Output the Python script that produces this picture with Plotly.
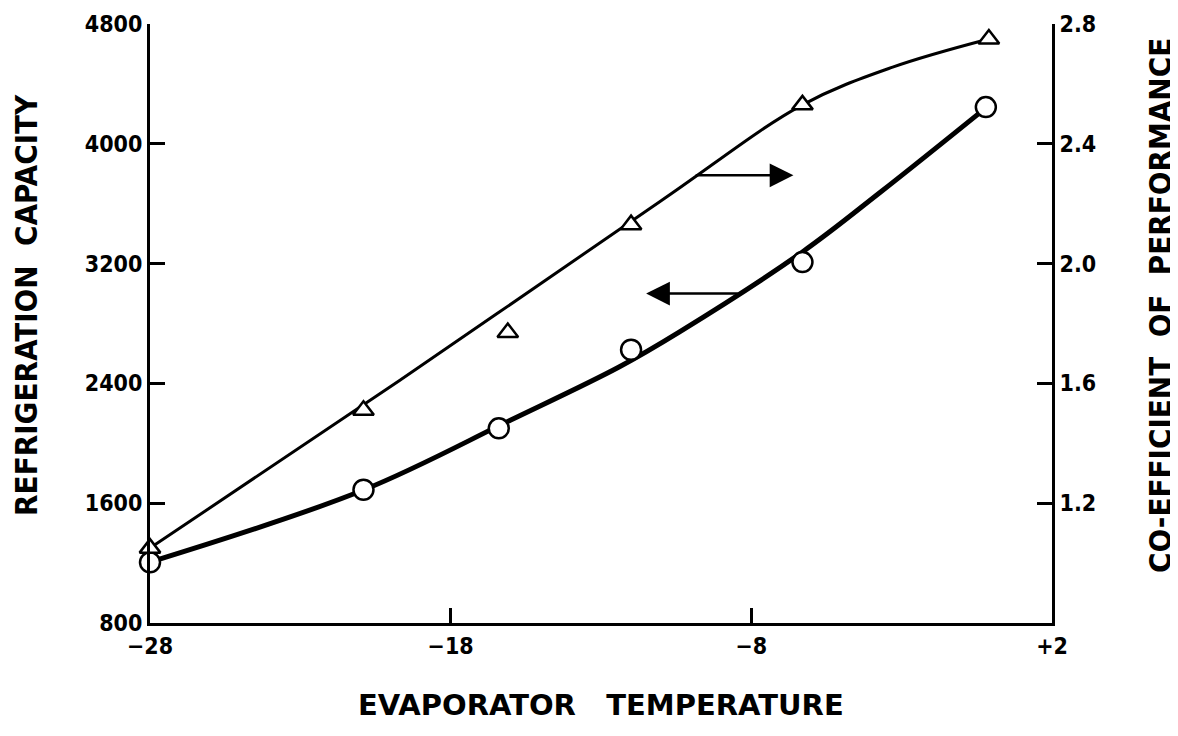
import plotly.graph_objects as go

# ---- data ----
# measured points
temp_cap = [-28, -20.9, -16.4, -12.0, -6.3, -0.2]          # evaporator temperature (circles)
capacity = [1205, 1690, 2100, 2625, 3210, 4245]             # refrigeration capacity (left axis)
temp_cop = [-28, -20.9, -16.1, -12.0, -6.3, -0.1]           # evaporator temperature (triangles)
cop = [1.05, 1.51, 1.77, 2.13, 2.53, 2.75]                  # co-efficient of performance (right axis)

# hand-fitted curves as drawn in the picture
curve_cap_t = [-28, -20.9, -16.0, -12.4, -10.4, -6.3, -3.7, -0.2]
curve_cap_v = [1207, 1688, 2156, 2510, 2743, 3278, 3678, 4240]
curve_cop_t = [-28, -19.7, -11.0, -6.3, -3.3, -0.1]
curve_cop_v = [1.05, 1.61, 2.21, 2.53, 2.656, 2.75]

# axes ticks
x_ticks = [-28, -18, -8, 2]
x_ticktext = ["\u221228", "\u221218", "\u22128", "+2"]
y_ticks = [800, 1600, 2400, 3200, 4000, 4800]
y2_ticks = [1.2, 1.6, 2.0, 2.4, 2.8]
y2_ticktext = ["1.2", "1.6", "2.0", "2.4", "2.8"]

# direction arrows (tail x, head x, level on left axis)
arrow_tail_x = [-9.9, -8.4]
arrow_head_x = [-6.6, -11.5]
arrow_level = [3790, 3000]

FONT = "DejaVu Sans Condensed, DejaVu Sans, sans-serif"
INK = "black"

fig = go.Figure()

fig.add_trace(go.Scatter(x=curve_cop_t, y=curve_cop_v, mode="lines", yaxis="y2",
                         line=dict(color=INK, width=3, shape="spline", smoothing=1.0),
                         hoverinfo="skip", showlegend=False))
fig.add_trace(go.Scatter(x=curve_cap_t, y=curve_cap_v, mode="lines",
                         line=dict(color=INK, width=5, shape="spline", smoothing=1.0),
                         hoverinfo="skip", showlegend=False))
fig.add_trace(go.Scatter(x=temp_cap, y=capacity, mode="markers", cliponaxis=False,
                         marker=dict(symbol="circle", size=20, color="white",
                                     line=dict(color=INK, width=2.5)),
                         name="Refrigeration capacity", showlegend=False))
fig.add_trace(go.Scatter(x=temp_cop, y=cop, mode="markers", yaxis="y2", cliponaxis=False,
                         marker=dict(symbol="triangle-up", size=18, color="white",
                                     line=dict(color=INK, width=2.5)),
                         name="COP", showlegend=False))

# arrows
for tx, hx, lv in zip(arrow_tail_x, arrow_head_x, arrow_level):
    fig.add_annotation(x=hx, y=lv, ax=tx, ay=lv, xref="x", yref="y", axref="x", ayref="y",
                       showarrow=True, arrowhead=2, arrowsize=1.9, arrowwidth=2.5,
                       arrowcolor=INK, text="")

fig.add_annotation(text="EVAPORATOR   TEMPERATURE", xref="paper", yref="paper",
                   x=0.5, y=-0.137, yanchor="middle", showarrow=False,
                   font=dict(family="DejaVu Sans, sans-serif", size=29, color=INK, weight="bold"))
fig.add_annotation(text="REFRIGERATION  CAPACITY", xref="paper", yref="paper",
                   x=-0.1375, y=0.531, xanchor="center", yanchor="middle", textangle=-90,
                   showarrow=False, font=dict(family=FONT, size=31, color=INK, weight="bold"))
fig.add_annotation(text="CO-EFFICIENT  OF  PERFORMANCE", xref="paper", yref="paper",
                   x=1.1197, y=0.531, xanchor="center", yanchor="middle", textangle=-90,
                   showarrow=False, font=dict(family=FONT, size=31, color=INK, weight="bold"))

tickfont = dict(family=FONT, size=23, color=INK, weight="bold")
axis_common = dict(showgrid=False, zeroline=False, showline=True, linecolor=INK, linewidth=3,
                   ticks="inside", ticklen=15, tickwidth=3, tickcolor=INK, tickfont=tickfont,
                   automargin=False)
fig.update_layout(
    template="none",
    width=1170, height=728,
    margin=dict(l=142, r=126, t=16, b=113, autoexpand=False),
    paper_bgcolor="white", plot_bgcolor="white",
    font=dict(family=FONT, color=INK),
    xaxis=dict(range=[-28, 2], tickvals=x_ticks, ticktext=x_ticktext, **axis_common),
    yaxis=dict(range=[800, 4800], tickvals=y_ticks, **axis_common),
    yaxis2=dict(range=[0.8, 2.8], tickvals=y2_ticks, ticktext=y2_ticktext,
                overlaying="y", side="right", **axis_common),
)

fig.write_html("out.html")
